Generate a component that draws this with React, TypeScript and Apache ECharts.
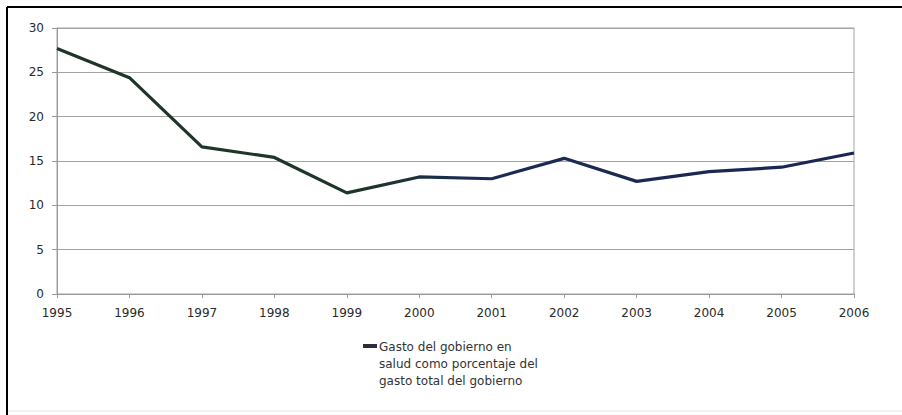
import React, { useEffect, useRef } from "react";
import * as echarts from "echarts";

// Government health spending as a share of total government spending, 1995–2006
const years = ["1995", "1996", "1997", "1998", "1999", "2000", "2001", "2002", "2003", "2004", "2005", "2006"];
const healthShare = [27.7, 24.4, 16.6, 15.4, 11.4, 13.2, 13.0, 15.3, 12.7, 13.8, 14.3, 15.9];
const seriesName = "Gasto del gobierno en\nsalud como porcentaje del\ngasto total del gobierno";
const yTicks = { min: 0, max: 30, interval: 5 };

const FONT = "'DejaVu Sans', Verdana, sans-serif";

export default function App() {
  const ref = useRef<HTMLDivElement>(null);

  useEffect(() => {
    if (!ref.current) return;
    const chart = echarts.init(ref.current, null, { renderer: "svg" });
    chart.setOption({
      animation: false,
      backgroundColor: "#ffffff",
      textStyle: { fontFamily: FONT },
      grid: {
        left: 57,
        right: 48,
        top: 28,
        bottom: 121,
        show: true,
        borderColor: "#a3a3a3",
        borderWidth: 1,
        backgroundColor: "transparent",
      },
      xAxis: {
        type: "category",
        data: years,
        boundaryGap: false,
        axisLine: { lineStyle: { color: "#9a9a9a", width: 1 } },
        axisTick: { show: true, length: 4, alignWithLabel: true, lineStyle: { color: "#9a9a9a" } },
        axisLabel: { color: "#2a2a2a", fontSize: 12, fontFamily: FONT, margin: 13 },
        splitLine: { show: false },
      },
      yAxis: {
        type: "value",
        min: yTicks.min,
        max: yTicks.max,
        interval: yTicks.interval,
        axisLine: { show: true, lineStyle: { color: "#9a9a9a", width: 1 } },
        axisTick: { show: true, length: 5, lineStyle: { color: "#9a9a9a" } },
        axisLabel: { color: "#2a2a2a", fontSize: 12, fontFamily: FONT, margin: 13 },
        splitLine: { show: true, lineStyle: { color: "#a3a3a3", width: 1 } },
      },
      series: [
        {
          name: seriesName,
          type: "line",
          data: healthShare,
          symbol: "none",
          lineStyle: {
            width: 3.2,
            color: new echarts.graphic.LinearGradient(0, 0, 1, 0, [
              { offset: 0, color: "#1d3628" },
              { offset: 0.38, color: "#1d3628" },
              { offset: 0.52, color: "#1b2c52" },
              { offset: 1, color: "#1a2652" },
            ]),
          },
        },
      ],
      graphic: [
        // frame lines along the top and left edge
        { type: "line", shape: { x1: 7, y1: 7, x2: 902, y2: 7 }, style: { stroke: "#000", lineWidth: 2 } },
        { type: "line", shape: { x1: 7, y1: 7, x2: 7, y2: 415 }, style: { stroke: "#000", lineWidth: 2 } },
        { type: "line", shape: { x1: 8, y1: 411, x2: 902, y2: 411 }, style: { stroke: "#e4e4e4", lineWidth: 1 } },
        // legend key and label
        { type: "rect", shape: { x: 363, y: 344, width: 14, height: 4 }, style: { fill: "#2b2f3a" } },
        {
          type: "text",
          x: 379,
          y: 338,
          style: {
            text: seriesName,
            fill: "#333",
            fontSize: 12,
            fontFamily: FONT,
            lineHeight: 17,
          },
        },
      ],
    });
    return () => chart.dispose();
  }, []);

  return (
    <div
      ref={ref}
      style={{ position: "fixed", left: 0, top: 0, width: 902, height: 415 }}
    />
  );
}
